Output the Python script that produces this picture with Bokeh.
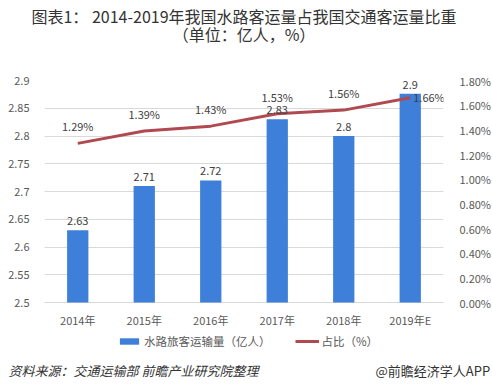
from bokeh.plotting import figure
from bokeh.models import (Range1d, LinearAxis, FactorRange, ColumnDataSource, LabelSet, Title,
                          Legend, LegendItem, FixedTicker, PrintfTickFormatter)
from bokeh.embed import file_html
from bokeh.resources import INLINE
from bokeh.core.properties import value

# ---- data ----
years = ["2014年", "2015年", "2016年", "2017年", "2018年", "2019年E"]
passengers = [2.63, 2.71, 2.72, 2.83, 2.80, 2.876]
passenger_labels = ["2.63", "2.71", "2.72", "2.83", "2.8", "2.9"]
share = [1.29, 1.39, 1.43, 1.53, 1.56, 1.66]
share_labels = ["1.29%", "1.39%", "1.43%", "1.53%", "1.56%", "1.66%"]
left_ticks = [2.5, 2.55, 2.6, 2.65, 2.7, 2.75, 2.8, 2.85, 2.9]
left_tick_labels = ["2.5", "2.55", "2.6", "2.65", "2.7", "2.75", "2.8", "2.85", "2.9"]
right_ticks = [0.0, 0.2, 0.4, 0.6, 0.8, 1.0, 1.2, 1.4, 1.6, 1.8]

title1 = "图表1： 2014-2019年我国水路客运量占我国交通客运量比重"
title2 = "（单位：亿人，%）"
source_note = "资料来源：交通运输部 前瞻产业研究院整理"
credit = "@前瞻经济学人APP"
bar_name = "水路旅客运输量（亿人）"
line_name = "占比（%）"

FONT = "Noto Sans CJK SC"
BLUE = "#3d7fd9"
RED = "#b04a50"
GRAY = "#595959"
TXT = "#333333"

# plotting area: value part 222px tall, plus 67px below the 2.5 baseline for the
# category labels and the legend
VAL_H, EXTRA_H = 222, 67
y_lo, y_hi = left_ticks[0], left_ticks[-1]
p_lo, p_hi = right_ticks[0], right_ticks[-1]
y_start = y_lo - (y_hi - y_lo) * EXTRA_H / VAL_H
p_start = p_lo - (p_hi - p_lo) * EXTRA_H / VAL_H

p = figure(x_range=FactorRange(*years), y_range=Range1d(y_start, y_hi), title=None,
           x_axis_location=None,
           frame_width=399, frame_height=VAL_H + EXTRA_H,
           min_border_left=44, min_border_right=49, min_border_top=80, min_border_bottom=22,
           output_backend="svg", toolbar_location=None, tools="")
p.outline_line_color = None
p.background_fill_color = "white"
p.border_fill_color = "white"
p.x_range.range_padding = 0.0
p.extra_y_ranges = {"pct": Range1d(p_start, p_hi)}

# ---- axes ----
p.yaxis.ticker = FixedTicker(ticks=left_ticks)
p.yaxis.major_label_overrides = {t: l for t, l in zip(left_ticks, left_tick_labels)}
for ax in p.yaxis:
    ax.axis_line_color = None
    ax.major_tick_line_color = None
    ax.minor_tick_line_color = None
    ax.major_label_text_font = FONT
    ax.major_label_text_font_size = "11px"
    ax.major_label_text_color = GRAY
    ax.major_label_standoff = 9

rax = LinearAxis(y_range_name="pct", ticker=FixedTicker(ticks=right_ticks),
                 formatter=PrintfTickFormatter(format="%.2f%%"))
rax.axis_line_color = None
rax.major_tick_line_color = None
rax.minor_tick_line_color = None
rax.major_label_text_font = FONT
rax.major_label_text_font_size = "11px"
rax.major_label_text_color = GRAY
rax.major_label_standoff = 10
p.add_layout(rax, "right")

p.xgrid.grid_line_color = None
p.ygrid.grid_line_color = "#d9d9d9"
p.ygrid.grid_line_width = 1

# ---- marks ----
src = ColumnDataSource(dict(year=years, val=passengers, lab=passenger_labels,
                            share=share, slab=share_labels, base=[y_lo] * len(years)))
bars = p.vbar(x="year", top="val", bottom=y_lo, width=0.32, source=src,
              fill_color=BLUE, line_color=None)
line = p.line(x="year", y="share", source=src, y_range_name="pct",
              line_color=RED, line_width=3)

# category labels under the baseline
p.add_layout(LabelSet(x="year", y="base", text="year", source=src, text_align="center",
                      text_baseline="middle", y_offset=-17, text_font=value(FONT),
                      text_font_size="11px", text_color=GRAY))

p.add_layout(LabelSet(x="year", y="val", text="lab", source=src, text_align="center",
                      text_baseline="bottom", y_offset=5, text_font=value(FONT),
                      text_font_size="11px", text_color="#404040"))

src_a = ColumnDataSource(dict(year=years[:-1], share=share[:-1], slab=share_labels[:-1]))
src_b = ColumnDataSource(dict(year=years[-1:], share=share[-1:], slab=share_labels[-1:]))
p.add_layout(LabelSet(x="year", y="share", text="slab", source=src_a, y_range_name="pct",
                      text_align="center", text_baseline="bottom", y_offset=9,
                      text_font=value(FONT), text_font_size="11px", text_color="#404040"))
p.add_layout(LabelSet(x="year", y="share", text="slab", source=src_b, y_range_name="pct",
                      text_align="left", text_baseline="middle", x_offset=3, y_offset=1,
                      text_font=value(FONT), text_font_size="11px", text_color="#404040"))

# ---- series legend, under the category labels ----
legend = Legend(items=[LegendItem(label=bar_name, renderers=[bars]),
                       LegendItem(label=line_name, renderers=[line])],
                location=(73, 20), orientation="horizontal",
                glyph_width=24, glyph_height=8, label_standoff=3, spacing=24,
                padding=0, margin=0, border_line_color=None, background_fill_alpha=0,
                label_text_font=FONT, label_text_font_size="11.5px", label_text_color=GRAY)
p.add_layout(legend, "center")

# ---- titles (above): spacer nearest the frame, then the two title lines ----
p.add_layout(Title(text=" ", standoff=18, text_font=FONT, text_font_size="16px",
                   text_font_style="normal", text_color="white"), "above")
p.add_layout(Title(text=title2, align="center", offset=2, standoff=-18, text_font=FONT,
                   text_font_size="16px", text_font_style="normal", text_color=TXT), "above")
p.add_layout(Title(text=title1, align="center", offset=1, standoff=2, text_font=FONT,
                   text_font_size="16px", text_font_style="normal", text_color=TXT), "above")

# ---- footer (below): note and credit share one line ----
p.add_layout(Title(text=source_note, align="left", offset=-36, standoff=-21.5, text_font=FONT,
                   text_font_size="13px", text_font_style="italic", text_color=TXT), "below")
p.add_layout(Title(text=credit, align="left", offset=331, standoff=-21.5, text_font=FONT,
                   text_font_size="13px", text_font_style="normal", text_color=TXT), "below")
p.add_layout(Title(text=" ", standoff=0.5, text_font=FONT, text_font_size="13px",
                   text_font_style="normal", text_color="white"), "below")

open("out.html", "w").write(file_html(p, INLINE))
